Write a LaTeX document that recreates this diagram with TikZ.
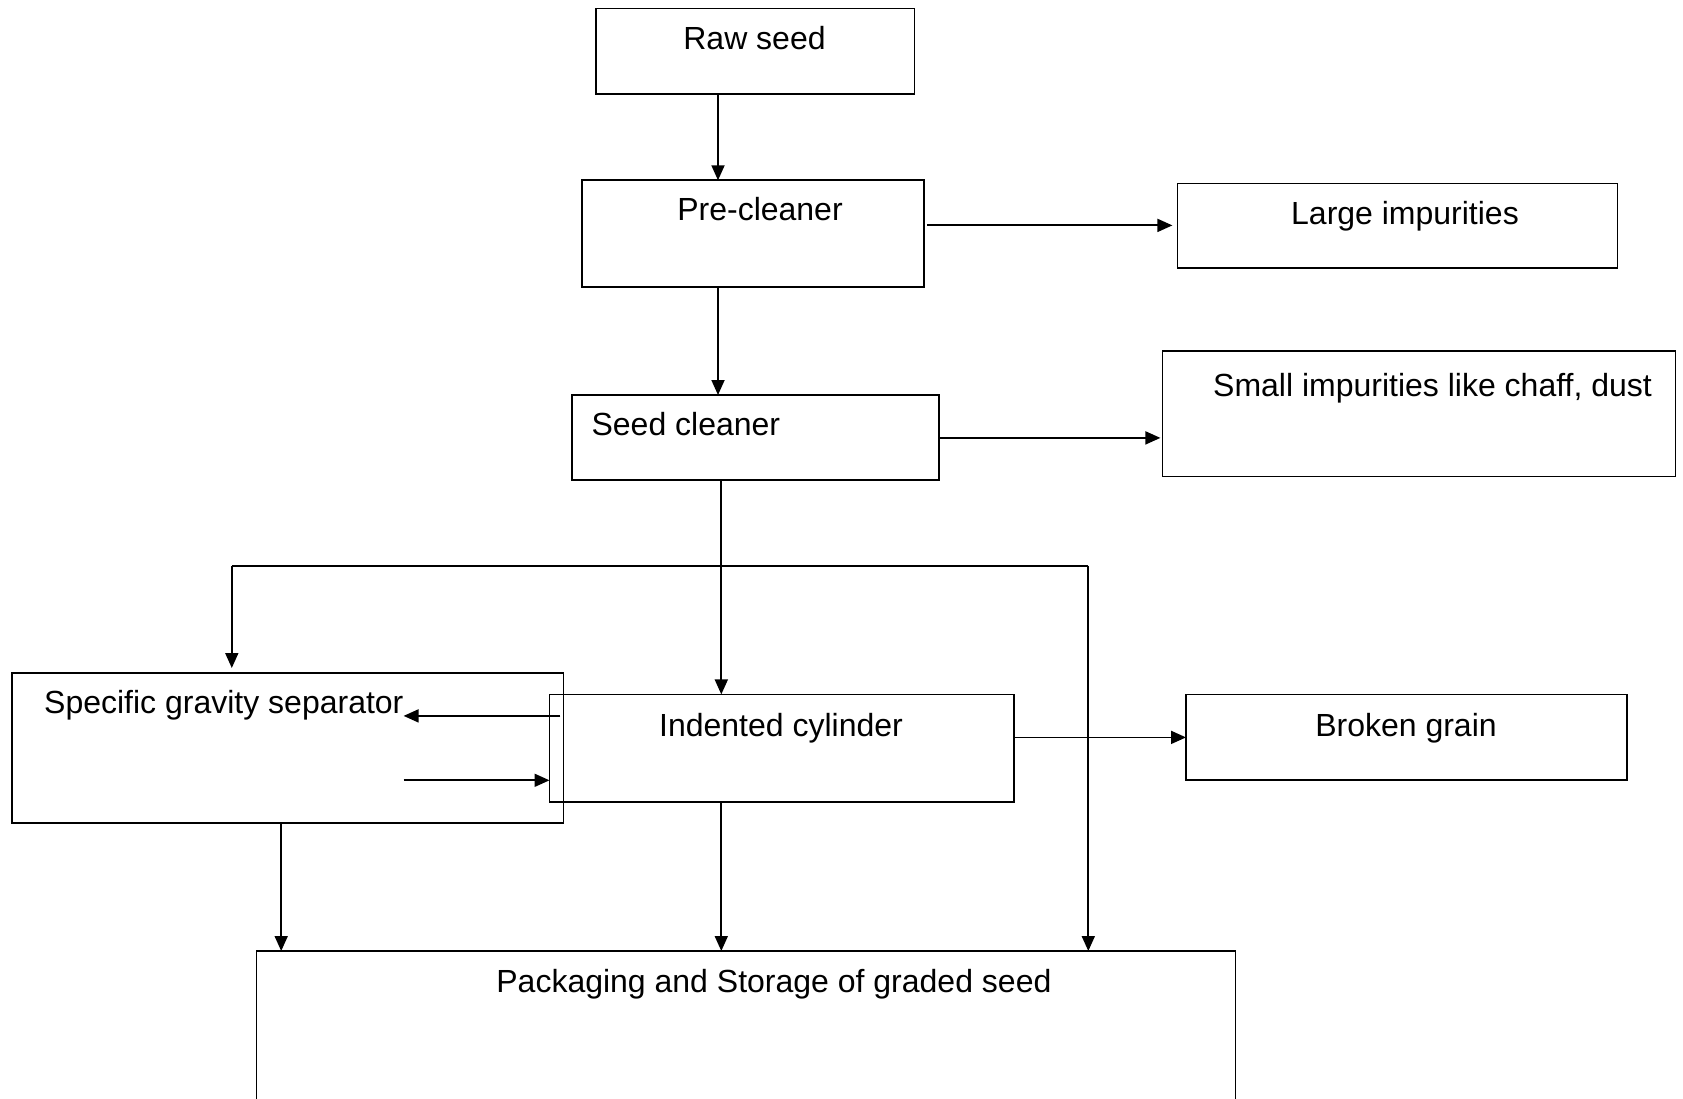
\documentclass[tikz,border=0pt]{standalone}
\usepackage{fontspec}
\setmainfont{Liberation Sans}
\usetikzlibrary{arrows.meta}
\begin{document}
\begin{tikzpicture}[x=1pt,y=-1pt,
  box/.style={draw, line width=1.8pt, inner sep=0pt, outer sep=0pt, anchor=north west},
  lbl/.style={font=\fontsize{32}{38}\selectfont, inner sep=0pt, anchor=base},
  lbll/.style={font=\fontsize{32}{38}\selectfont, inner sep=0pt, anchor=base west},
  arr/.style={line width=1.8pt, -{Triangle[length=15pt,width=13pt]}},
  ln/.style={line width=1.8pt}]
\useasboundingbox (0,0) rectangle (1683,1099);
\clip (0,0) rectangle (1683,1099);
% boxes
\node[box, minimum width=318.8pt, minimum height=85.8pt] (raw) at (595.7,8.6) {};
\node[box, minimum width=342.4pt, minimum height=106.3pt] (pre) at (581.7,180.3) {};
\node[box, minimum width=440.1pt, minimum height=84.8pt] (large) at (1177.4,183.5) {};
\node[box, minimum width=513pt, minimum height=125.5pt] (small) at (1162.4,351) {};
\node[box, minimum width=367.1pt, minimum height=84.8pt] (seed) at (572,395) {};
\node[box, minimum width=551.7pt, minimum height=150.2pt] (sgs) at (11.8,673) {};
\node[box, minimum width=464.8pt, minimum height=107.4pt] (ind) at (549.5,694.4) {};
\node[box, minimum width=441.1pt, minimum height=85.9pt] (broken) at (1186,694.4) {};
\node[box, minimum width=978.9pt, minimum height=200pt] (pack) at (256.5,951) {};
% texts
\node[lbl] (rawt) at (754.5,50) {Raw seed};
\node[lbl] (pret) at (760,220.7) {Pre-cleaner};
\node[lbl] (larget) at (1405,224.5) {Large impurities};
\node[lbl] (smallt) at (1432.5,396.4) {Small impurities like chaff, dust};
\node[lbll] (seedt) at (591.4,435.8) {Seed cleaner};
\node[lbll] (sgst) at (44,713.5) {Specific gravity separator};
\node[lbl] (indt) at (781,736.3) {Indented cylinder};
\node[lbl] (brokent) at (1406,736.3) {Broken grain};
\node[lbl] (packt) at (773.9,992.7) {Packaging and Storage of graded seed};
% connectors
\draw[arr] (raw.south -| 718,0) -- (pre.north -| 718,0);
\draw[arr, shorten <=3pt, shorten >=5pt] (pre.east |- 0,225.4) -- (large.west |- 0,225.4);
\draw[arr] (pre.south -| 718,0) -- (seed.north -| 718,0);
\draw[arr, shorten >=2pt] (seed.east |- 0,437.9) -- (small.west |- 0,437.9);
\draw[arr] (seed.south -| 721.3,0) -- (ind.north -| 721.3,0);
\coordinate (jl) at (231.8,565.6);
\coordinate (jr) at (1088.3,565.6);
\draw[ln] (jl) -- (jr);
\draw[arr, shorten >=5pt] (jl) -- (sgs.north -| jl);
\draw[arr] (jr) -- (pack.north -| jr);
\draw[arr] (ind.east |- 0,737.4) -- (broken.west |- 0,737.4);
\coordinate (fromind) at (560.3,715.9);
\coordinate (sgl) at (403.6,715.9);
\coordinate (sgr) at (403.6,780.3);
\draw[arr] (fromind) -- (sgl);
\draw[arr] (sgr) -- (ind.west |- sgr);
\draw[arr] (sgs.south -| 281.2,0) -- (pack.north -| 281.2,0);
\draw[arr] (ind.south -| 721.3,0) -- (pack.north -| 721.3,0);
\end{tikzpicture}
\end{document}
